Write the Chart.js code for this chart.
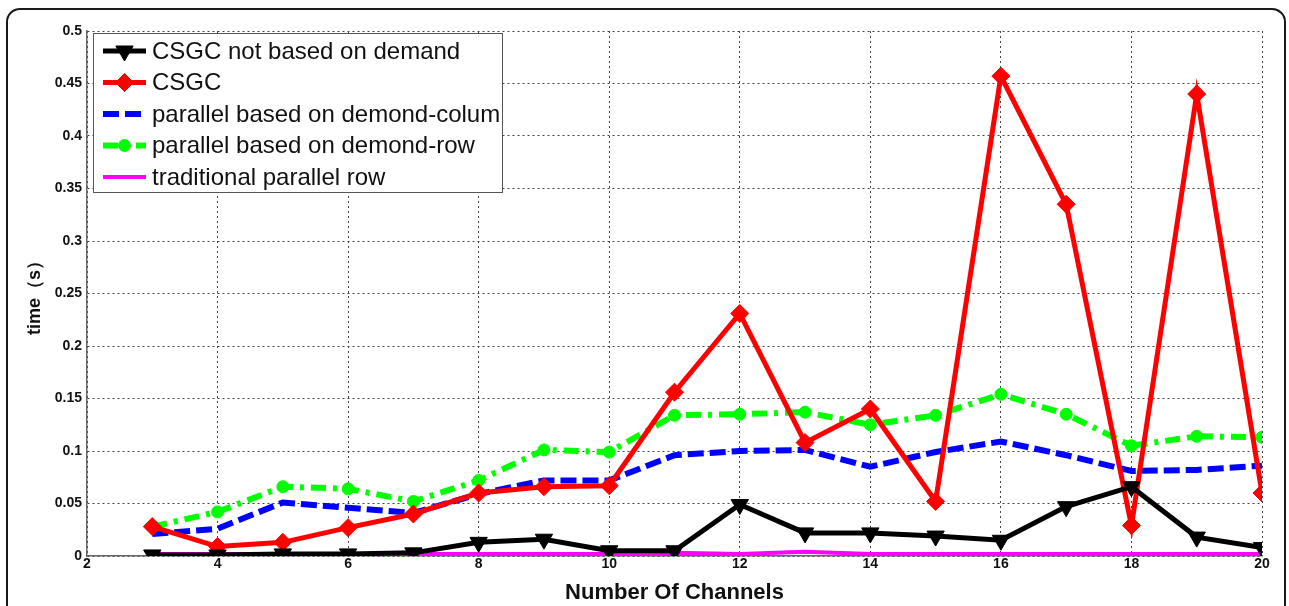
<!DOCTYPE html>
<html>
<head>
<meta charset="utf-8">
<script src="https://cdn.jsdelivr.net/npm/chart.js@4/dist/chart.umd.min.js"></script>
<style>
  html, body { margin: 0; padding: 0; background: #fff; overflow: hidden; }
  #wrap { position: relative; width: 1289px; height: 606px; }
  #frame { position: absolute; left: 6px; top: 8px; width: 1276px; height: 640px;
           border: 2px solid #1a1a1a; border-radius: 14px; pointer-events: none; }
</style>
</head>
<body>
<div id="wrap">
  <canvas id="myChart1" width="1289" height="606"></canvas>
  <div id="frame"></div>
</div>
<script>
//------------------ データ ------------------//
// チャンネル数
const CHANNELS = [3, 4, 5, 6, 7, 8, 9, 10, 11, 12, 13, 14, 15, 16, 17, 18, 19, 20]
// 各方式の時間(s)
const CSGC_NOT_DEMAND = [0.001, 0.001, 0.002, 0.002, 0.003, 0.013, 0.016, 0.005, 0.005, 0.049, 0.022, 0.022, 0.019, 0.015, 0.047, 0.066, 0.018, 0.008]
const CSGC = [0.028, 0.009, 0.013, 0.027, 0.040, 0.060, 0.066, 0.067, 0.156, 0.231, 0.108, 0.140, 0.052, 0.457, 0.335, 0.029, 0.440, 0.060]
const PARA_COLUM = [0.021, 0.026, 0.051, 0.046, 0.041, 0.059, 0.072, 0.072, 0.096, 0.100, 0.101, 0.085, 0.099, 0.109, 0.096, 0.081, 0.082, 0.086]
const PARA_ROW = [0.028, 0.042, 0.066, 0.064, 0.052, 0.072, 0.101, 0.099, 0.134, 0.135, 0.137, 0.125, 0.134, 0.154, 0.135, 0.105, 0.114, 0.113]
const TRAD_ROW = [0.002, 0.002, 0.002, 0.002, 0.002, 0.002, 0.002, 0.002, 0.003, 0.002, 0.004, 0.002, 0.002, 0.002, 0.002, 0.002, 0.002, 0.002]
// 凡例ラベル
const LABELS = ['CSGC not based on demand', 'CSGC', 'parallel based on demond-colum', 'parallel based on demond-row', 'traditional parallel row']
// 軸
const X_MIN = 2, X_MAX = 20, X_STEP = 2
const Y_MIN = 0, Y_MAX = 0.5, Y_STEP = 0.05
//-------------------------------------------//

const FONT = "'Liberation Sans', Arial, sans-serif"

function toPoints(values){
    return values.map((v, i) => ({x: CHANNELS[i], y: v}))
}

/*--------------------------------------------------------------------
凡例をプロット領域の中に描くプラグイン
--------------------------------------------------------------------*/
const innerLegend = {
    id: 'innerLegend',
    afterDraw(chart){
        const ctx = chart.ctx
        const area = chart.chartArea
        const x0 = area.left + 6, y0 = area.top + 2
        const w = 409, h = 159
        ctx.save()
        ctx.fillStyle = '#fff'
        ctx.fillRect(x0, y0, w, h)
        ctx.strokeStyle = '#555'
        ctx.lineWidth = 1
        ctx.strokeRect(x0 + 0.5, y0 + 0.5, w, h)
        chart.data.datasets.forEach((ds, i) => {
            const y = y0 + 18 + i * 31.5
            const lx1 = x0 + 10, lx2 = x0 + 53
            ctx.strokeStyle = ds.borderColor
            ctx.lineWidth = ds.borderWidth
            ctx.setLineDash(ds.borderDash || [])
            ctx.beginPath()
            ctx.moveTo(lx1, y)
            ctx.lineTo(lx2, y)
            ctx.stroke()
            ctx.setLineDash([])
            if (ds.pointRadius > 0){
                ctx.fillStyle = ds.borderColor
                ctx.lineWidth = 1
                Chart.helpers.drawPoint(ctx, {
                    pointStyle: ds.pointStyle,
                    rotation: ds.pointRotation || 0,
                    radius: ds.pointRadius,
                    borderWidth: 1
                }, (lx1 + lx2) / 2, y)
            }
            ctx.font = '24px ' + FONT
            ctx.textBaseline = 'middle'
            ctx.textAlign = 'left'
            ctx.fillStyle = '#111'
            ctx.fillText(ds.label, x0 + 59, y + 1)
        })
        ctx.restore()
    }
}

/*--------------------------------------------------------------------
グラフをプロットする
--------------------------------------------------------------------*/
const ctx = document.getElementById('myChart1').getContext('2d')
Chart.defaults.font.family = FONT

// 線と点の共通設定
function lineOpts(label, values, color, width){
    return {label: label, data: toPoints(values), borderColor: color, borderWidth: width,
            pointBackgroundColor: color, pointBorderColor: color, pointBorderWidth: 1,
            fill: false, tension: 0}
}

const DATASETS = [
    Object.assign(lineOpts(LABELS[0], CSGC_NOT_DEMAND, '#000000', 5),
        {pointStyle: 'triangle', pointRotation: 180, pointRadius: 10}),
    Object.assign(lineOpts(LABELS[1], CSGC, '#ff0000', 5),
        {pointStyle: 'rectRot', pointRadius: 9}),
    Object.assign(lineOpts(LABELS[2], PARA_COLUM, '#0000ff', 6),
        {borderDash: [16, 6], pointRadius: 0}),
    Object.assign(lineOpts(LABELS[3], PARA_ROW, '#00ff00', 6),
        {borderDash: [15, 7, 4, 7], pointStyle: 'circle', pointRadius: 6}),
    Object.assign(lineOpts(LABELS[4], TRAD_ROW, '#ff00ff', 4),
        {pointRadius: 0}),
]

window.myChart = new Chart(ctx, {
    type: 'line',
    data: { datasets: DATASETS },
    options: {
        responsive: false,
        animation: false,
        layout: { padding: { left: 0, right: 27, top: 31, bottom: 0 } },
        plugins: { legend: { display: false }, tooltip: { enabled: false } },
        scales: {
            x: {
                type: 'linear',
                min: X_MIN, max: X_MAX,
                ticks: { stepSize: X_STEP, color: '#111', font: { size: 14, weight: 'bold' }, padding: 0, maxRotation: 0 },
                grid: { color: '#444', lineWidth: 1, drawTicks: false },
                border: { display: true, color: '#666', width: 1.5, dash: [2, 3] },
                title: { display: true, text: 'Number Of Channels', color: '#111',
                         font: { size: 22, weight: 'bold' }, padding: { top: 4, bottom: 0 } },
                afterFit(scale){ scale.height = 606 - 556 }
            },
            y: {
                min: Y_MIN, max: Y_MAX,
                ticks: { stepSize: Y_STEP, color: '#111', font: { size: 14, weight: 'bold' }, padding: 5,
                         callback: v => String(Math.round(v * 100) / 100) },
                grid: { color: '#444', lineWidth: 1, drawTicks: false },
                border: { display: true, color: '#666', width: 1.5, dash: [2, 3] },
                title: { display: true, text: 'time（s）', color: '#111',
                         font: { size: 18, weight: 'bold' }, padding: { top: 24, bottom: 0 } },
                afterFit(scale){ scale.width = 87 }
            }
        }
    },
    plugins: [innerLegend]
});
</script>
</body>
</html>
